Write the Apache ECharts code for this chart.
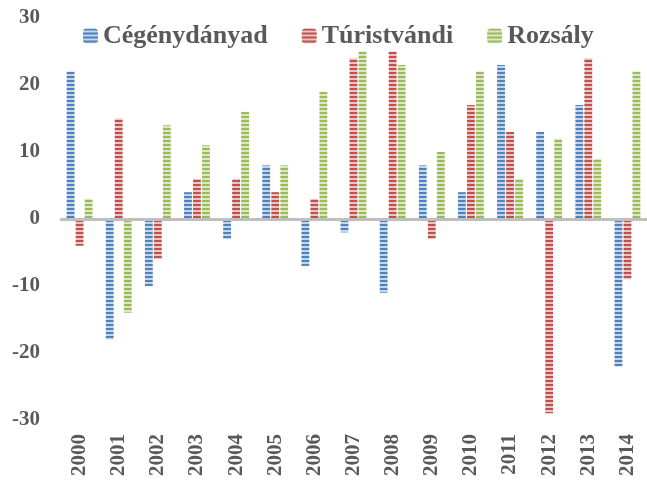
<!DOCTYPE html>
<html>
<head>
<meta charset="utf-8">
<script src="https://cdn.jsdelivr.net/npm/echarts@6/dist/echarts.min.js"></script>
<style>
  html, body { margin: 0; padding: 0; background: #fff; }
  #chart { width: 647px; height: 480px; }
</style>
</head>
<body>
<div id="chart"></div>
<script>
// data
const years = ["2000", "2001", "2002", "2003", "2004", "2005", "2006", "2007",
  "2008", "2009", "2010", "2011", "2012", "2013", "2014"];
const cegenydanyad = [22, -18, -10, 4, -3, 8, -7, -2, -11, 8, 4, 23, 13, 17, -22];
const turistvandi = [-4, 15, -6, 6, 6, 4, 3, 24, 25, -3, 17, 13, -29, 24, -9];
const rozsaly = [3, -14, 14, 11, 16, 8, 19, 25, 23, 10, 22, 6, 12, 9, 22];
const seriesNames = ["Cégénydányad", "Túristvándi", "Rozsály"];

const fontFam = "'Liberation Serif', 'DejaVu Serif', serif";
const textCol = "#595959";

// horizontal stripe fill, like the excel pattern
function stripes(dark, light) {
  let c = document.createElement("canvas");
  c.width = 4;
  c.height = 4;
  let ctx = c.getContext("2d");
  ctx.fillStyle = light;
  ctx.fillRect(0, 0, 4, 4);
  ctx.fillStyle = dark;
  ctx.fillRect(0, 0, 4, 2);
  return { image: c, repeat: "repeat" };
}

const fills = [
  stripes("#4f81bd", "#c6d6ea"),
  stripes("#c0504d", "#ebc5c4"),
  stripes("#9bbb59", "#dbe8c6"),
];

function makeSeries(name, data, i) {
  let s = {
    name: name,
    type: "bar",
    data: data,
    barGap: "15%",
    barCategoryGap: "34%",
    itemStyle: { color: fills[i] },
  };
  if (i === 0) {
    // grey zero line
    s.markLine = {
      silent: true,
      symbol: "none",
      label: { show: false },
      lineStyle: { color: "#bfbfbf", width: 3, type: "solid" },
      data: [{ yAxis: 0 }],
    };
  }
  return s;
}

const options = {
  animation: false,
  legend: {
    top: 18,
    left: 78,
    itemWidth: 15,
    itemHeight: 15,
    itemGap: 34,
    textStyle: { fontFamily: fontFam, fontSize: 26, fontWeight: "bold", color: textCol },
    data: seriesNames,
  },
  grid: { left: 60, right: -9, top: 18, bottom: 60, containLabel: false },
  xAxis: {
    type: "category",
    data: years,
    axisLine: { show: false, onZero: false },
    axisTick: { show: false },
    axisLabel: {
      rotate: 90,
      margin: 14,
      fontFamily: fontFam,
      fontSize: 21,
      fontWeight: "bold",
      color: textCol,
    },
  },
  yAxis: {
    type: "value",
    min: -30,
    max: 30,
    interval: 10,
    axisLine: { show: false },
    axisTick: { show: false },
    splitLine: { show: false },
    axisLabel: {
      margin: 20,
      fontFamily: fontFam,
      fontSize: 21,
      fontWeight: "bold",
      color: textCol,
    },
  },
  series: [
    makeSeries(seriesNames[0], cegenydanyad, 0),
    makeSeries(seriesNames[1], turistvandi, 1),
    makeSeries(seriesNames[2], rozsaly, 2),
  ],
};

let myChart = echarts.init(document.getElementById("chart"));
myChart.setOption(options);
</script>
</body>
</html>
